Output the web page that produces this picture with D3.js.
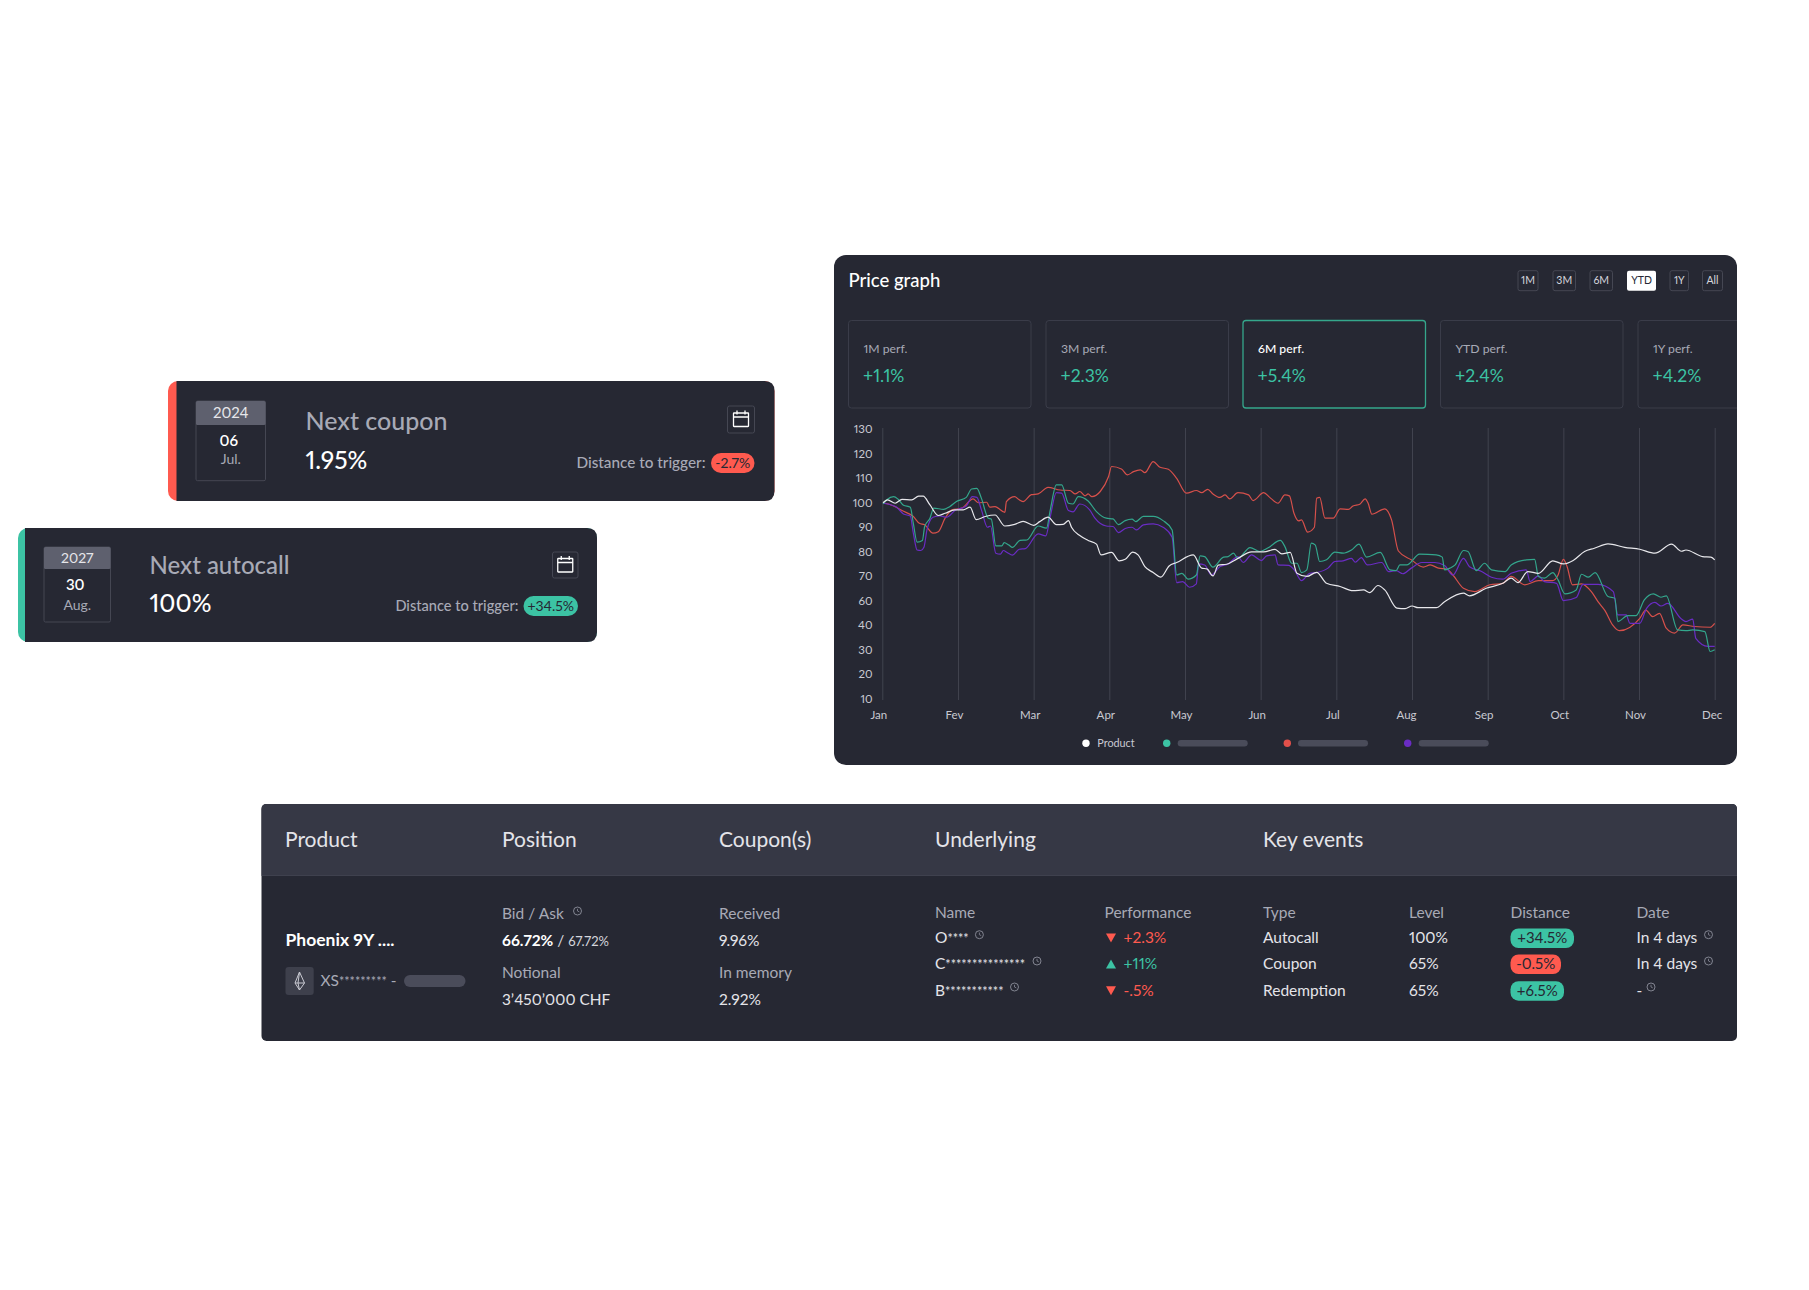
<!DOCTYPE html>
<html>
<head>
<meta charset="utf-8">
<script src="https://cdn.jsdelivr.net/npm/d3@7"></script>
<style>
  body { margin: 0; background: #fff; }
  svg { display: block; }
  text { font-family: "Lato", sans-serif; font-variant-numeric: proportional-nums; }
</style>
</head>
<body>
<div id="chart"></div>
<script>
// Data: [month index, value]
const months = ["Jan", "Fev", "Mar", "Apr", "May", "Jun", "Jul", "Aug", "Sep", "Oct", "Nov", "Dec"];
const yTicks = [130, 120, 110, 100, 90, 80, 70, 60, 40, 30, 20, 10];
const ranges = ["1M", "3M", "6M", "YTD", "1Y", "All"];
const perfNames = ["1M perf.", "3M perf.", "6M perf.", "YTD perf.", "1Y perf."];
const perfValues = ["+1.1%", "+2.3%", "+5.4%", "+2.4%", "+4.2%"];

const productValues = [[0.01,100],[0.07,101.2],[0.17,99.8],[0.26,101.4],[0.39,101.2],[0.48,102.7],[0.54,102.7],[0.63,99.1],[0.74,94.8],[0.83,95.7],[0.96,97.1],[1.07,97.1],[1.16,98.2],[1.24,93.1],[1.36,94.4],[1.49,95],[1.62,90.5],[1.75,91.2],[1.86,92.4],[2,90.8],[2.08,92.3],[2.19,94.1],[2.3,91.1],[2.39,91.2],[2.46,92.7],[2.5,90],[2.61,86.6],[2.72,84.6],[2.83,83.1],[2.89,78.7],[3.03,79.7],[3.13,76.3],[3.21,76.9],[3.31,79.8],[3.38,78.7],[3.47,73.9],[3.58,71.5],[3.68,69.6],[3.79,74.2],[3.89,75.6],[4.11,78.7],[4.22,73.3],[4.29,73],[4.37,70.1],[4.44,74.5],[4.55,74.9],[4.7,77.3],[4.88,79.9],[5.04,79.9],[5.19,81],[5.28,79.1],[5.39,79.7],[5.48,71.2],[5.61,69.9],[5.74,71.6],[5.87,67.1],[6.05,65.8],[6.22,64.1],[6.36,64.4],[6.44,63.3],[6.55,66.2],[6.64,64.4],[6.8,54],[6.91,53.5],[7,55.7],[7.08,54.3],[7.32,54.3],[7.43,59.2],[7.68,63.1],[7.76,62],[7.98,65.1],[8.2,67.1],[8.31,69.2],[8.4,67.4],[8.53,71.9],[8.67,71.2],[8.86,76.3],[9,75],[9.13,76.4],[9.28,80.1],[9.41,81.4],[9.59,83.2],[9.81,81.8],[10.01,81],[10.21,79.4],[10.43,83.1],[10.56,80.2],[10.62,80.7],[10.84,78],[10.95,77.8],[11,76.7]];

const tealValues = [[0.01,99.5],[0.06,101.2],[0.15,102.5],[0.21,101.4],[0.28,99],[0.37,98.2],[0.41,91.6],[0.46,83.9],[0.53,84.6],[0.56,90.3],[0.63,93.7],[0.68,97.8],[0.81,97.3],[0.89,98.4],[0.98,100.5],[1.11,102.2],[1.18,105.6],[1.25,105.9],[1.31,101.8],[1.4,93.7],[1.44,93.4],[1.5,82.4],[1.58,82.4],[1.61,83.7],[1.67,82.8],[1.72,81.8],[1.82,84.6],[1.91,84.8],[2.06,90.5],[2.17,89.6],[2.22,97.1],[2.3,107.3],[2.37,107.3],[2.46,99.8],[2.52,99.5],[2.59,102.5],[2.72,100.7],[2.83,96.4],[2.96,93.7],[3.05,93.4],[3.12,91.1],[3.21,92.7],[3.3,93.3],[3.35,92.3],[3.45,94.4],[3.58,94.4],[3.71,92.7],[3.83,88.9],[3.89,70.5],[3.96,71.2],[4.04,68.8],[4.15,70.5],[4.2,78.3],[4.26,78],[4.37,73.7],[4.51,77.8],[4.57,78],[4.64,79.4],[4.7,77.3],[4.86,81.7],[4.99,80.1],[5.1,81.6],[5.26,84.6],[5.32,82.1],[5.41,75.3],[5.48,75.3],[5.54,71.5],[5.61,72.6],[5.67,83.5],[5.72,82.8],[5.78,76],[5.87,76.7],[5.98,79.8],[6.09,79.4],[6.2,80.7],[6.3,83.1],[6.4,77.8],[6.58,79.7],[6.71,72.6],[6.79,72.3],[6.84,74.6],[6.93,74.6],[7.1,79],[7.32,78.7],[7.4,77.8],[7.43,72.6],[7.5,73.3],[7.57,74.6],[7.68,80.5],[7.74,80.1],[7.85,72.3],[7.96,75.3],[8.05,72.6],[8.23,71.9],[8.31,74.6],[8.51,76.7],[8.62,76.9],[8.67,69.9],[8.75,69.2],[8.86,71.5],[8.93,68.5],[9.02,62.8],[9.17,64.4],[9.24,70.8],[9.33,69.6],[9.42,71.5],[9.59,61.7],[9.68,61],[9.72,43],[9.85,47.8],[9.96,47.8],[10.07,60.3],[10.19,62.8],[10.29,61.4],[10.36,62],[10.51,38.1],[10.62,37.8],[10.71,38.1],[10.87,37.4],[10.94,29.3],[11,30]];

const redValues = [[0.01,100],[0.15,98.7],[0.26,96.8],[0.41,94.4],[0.49,91.6],[0.56,91],[0.67,87.6],[0.74,88.2],[0.83,93.7],[0.92,97.1],[1.05,97.8],[1.2,101.6],[1.27,100],[1.38,100.2],[1.42,98.2],[1.49,98.4],[1.62,96.1],[1.64,100.5],[1.75,102.5],[1.8,101.4],[1.86,100.5],[1.97,103.3],[2.06,103.6],[2.19,106.3],[2.35,105.2],[2.48,105],[2.55,103.6],[2.61,104.6],[2.68,102.8],[2.72,103.6],[2.77,102.5],[2.88,104.6],[2.99,110.7],[3.03,114.8],[3.16,113.8],[3.24,111.4],[3.32,112.7],[3.41,113.4],[3.47,112.3],[3.58,116.8],[3.67,114.5],[3.78,113.7],[3.89,110],[4.02,103.9],[4.15,105],[4.22,104.1],[4.3,105.5],[4.37,103.6],[4.46,102.2],[4.53,103.2],[4.59,101.6],[4.7,104.1],[4.84,103.2],[4.9,100.9],[5.04,104.1],[5.12,102.2],[5.23,99.8],[5.32,103.2],[5.38,102.8],[5.44,95.7],[5.5,92.6],[5.54,93],[5.62,88],[5.71,90],[5.74,101.8],[5.78,102.2],[5.85,93.7],[5.96,93.7],[6.05,97.5],[6.16,97.3],[6.22,98.7],[6.31,99.4],[6.38,101.6],[6.42,99.8],[6.47,95.3],[6.64,97.5],[6.73,93],[6.82,80.3],[6.99,76.7],[7.15,73.7],[7.24,74.6],[7.35,73.3],[7.46,72.9],[7.54,70.5],[7.68,65.1],[7.83,63.7],[8.03,66.5],[8.2,67.1],[8.31,69.9],[8.49,66.5],[8.67,68.2],[8.86,68.2],[8.93,70.5],[9,76.9],[9.05,73.9],[9.12,66.5],[9.24,66.9],[9.37,63.7],[9.46,59],[9.55,51.9],[9.65,40.3],[9.74,37.8],[10.01,45.7],[10.09,52.4],[10.18,47],[10.27,49.7],[10.36,38.8],[10.47,36.8],[10.58,40.3],[10.73,39.5],[10.94,39.2],[11,41.6]];

const purpleValues = [[0.01,99.8],[0.12,99.1],[0.19,98.2],[0.28,95.4],[0.37,94.6],[0.41,87.6],[0.46,80.7],[0.51,80.5],[0.55,81.8],[0.59,88.9],[0.67,94.1],[0.76,94.6],[0.85,94.1],[0.96,96.8],[1.11,98.7],[1.19,102.5],[1.25,102.2],[1.31,97.1],[1.39,90],[1.43,90.5],[1.5,79.4],[1.56,79],[1.6,80.5],[1.65,79.7],[1.72,78.6],[1.81,81],[1.89,81.3],[2.06,87.3],[2.16,86.5],[2.22,94.4],[2.3,104.1],[2.37,103.9],[2.46,96.8],[2.52,96.3],[2.61,99.5],[2.74,97.1],[2.81,93.7],[2.96,90.5],[3.05,90.3],[3.12,87.8],[3.21,89.5],[3.3,90],[3.36,88.9],[3.45,91],[3.58,91.4],[3.71,90],[3.83,85.9],[3.89,67.4],[3.97,67.8],[4.06,65.5],[4.15,66.9],[4.18,75],[4.26,74.6],[4.35,70.5],[4.46,73.9],[4.57,75],[4.7,78],[4.77,75.6],[4.88,78.7],[5.01,76.4],[5.08,78.3],[5.19,78.7],[5.23,74.6],[5.37,74.4],[5.45,72.3],[5.54,68.2],[5.65,71.2],[5.74,71.5],[5.89,73.3],[5.98,76],[6.09,76.3],[6.2,77.3],[6.25,75.7],[6.33,77.6],[6.41,74.6],[6.6,75.6],[6.69,71.9],[6.79,72.3],[6.88,71],[6.99,73.3],[7.13,75.6],[7.3,75.6],[7.43,74.4],[7.54,70.5],[7.68,77.3],[7.76,73.9],[7.92,71.9],[8.05,69.6],[8.2,68.8],[8.31,71.2],[8.51,72.6],[8.56,67.8],[8.67,70.1],[8.75,67.8],[8.91,67.1],[9,60],[9.17,61.3],[9.26,66.7],[9.46,66.7],[9.66,63.7],[9.72,48.4],[9.83,48.4],[9.88,41.6],[10.01,41.6],[10.1,53.8],[10.21,58.6],[10.29,55.7],[10.38,57.8],[10.56,45.1],[10.62,43],[10.71,45.1],[10.75,34.7],[10.91,31.4],[11,31.4]];

// Table contents
const tableHeads = ["Product", "Position", "Coupon(s)", "Underlying", "Key events"];
const underlyingNames = ["O", "C", "B"];
const underlyingStars = ["****", "***************", "***********"];
const underlyingPerf = ["+2.3%", "+11%", "-.5%"];
const eventTypes = ["Autocall", "Coupon", "Redemption"];
const eventLevels = ["100%", "65%", "65%"];
const eventDistances = ["+34.5%", "-0.5%", "+6.5%"];
const eventDates = ["In 4 days", "In 4 days", "-"];

// Colours
const panelBg = "#262833", headBg = "#363845", greyText = "#a8aab6",
      whiteText = "#ffffff", teal = "#3cc3a4", red = "#ff5a4f", pillCol = "#4a4c5a", bodyText = "#e4e4e9";

const svg = d3.select("#chart").append("svg").attr("width", 1809).attr("height", 1290);

function label(g, x, y, str, size, fill, opts = {}) {
    return g.append("text")
        .attr("x", x).attr("y", y)
        .attr("dy", "0.35em")
        .attr("text-anchor", opts.anchor || "start")
        .attr("font-size", size)
        .attr("font-weight", opts.weight || 400)
        .attr("fill", fill)
        .text(str);
}

function box(g, x0, y0, x1, y1, r, fill, stroke) {
    return g.append("rect")
        .attr("x", x0).attr("y", y0)
        .attr("width", x1 - x0).attr("height", y1 - y0)
        .attr("rx", r)
        .attr("fill", fill)
        .attr("stroke", stroke || "none");
}

function clock(g, x, y) {
    g.append("circle").attr("cx", x).attr("cy", y).attr("r", 4)
        .attr("fill", "none").attr("stroke", "#8b8d9a").attr("stroke-width", 0.9);
    g.append("path").attr("d", `M${x},${y - 2.2}V${y}L${x + 1.8},${y + 0.9}`)
        .attr("fill", "none").attr("stroke", "#8b8d9a").attr("stroke-width", 0.8);
}

function calendar(g, x0, y0, x1, y1) {
    box(g, x0, y0, x1, y1, 2, "none", "#454753");
    const cx = (x0 + x1) / 2, cy = (y0 + y1) / 2;
    box(g, cx - 7.5, cy - 6.5, cx + 7.5, cy + 7, 0.5, "none", "#ffffff").attr("stroke-width", 1.3);
    g.append("path")
        .attr("d", `M${cx - 7.5},${cy - 2.5}H${cx + 7.5}M${cx - 4},${cy - 9}V${cy - 5}M${cx + 4},${cy - 9}V${cy - 5}`)
        .attr("stroke", "#ffffff").attr("stroke-width", 1.3);
}

// 1. Chart panel
const panel = svg.append("g");
svg.append("clipPath").attr("id", "panel-clip")
    .append("rect").attr("x", 834).attr("y", 255).attr("width", 903).attr("height", 510).attr("rx", 12);
box(panel, 834, 255, 1737, 765, 12, panelBg);
label(panel, 848.5, 280.5, "Price graph", 18.5, whiteText, {weight: 500});

const rangeBoxes = [[1518, 1538], [1553, 1575.5], [1590, 1612.5], [1627, 1656], [1670, 1688.5], [1702.5, 1722.5]];
ranges.forEach((r, i) => {
    const [x0, x1] = rangeBoxes[i];
    const on = r === "YTD";
    box(panel, x0, 270.7, x1, 290.7, 2, on ? "#ffffff" : "none", on ? "none" : "#454753");
    label(panel, (x0 + x1) / 2, 280.7, r, 10.5, on ? "#262833" : "#d5d6dd", {anchor: "middle"});
});

const perfLeft = [848.5, 1046, 1243, 1440.5, 1638];
const perfGroup = panel.append("g").attr("clip-path", "url(#panel-clip)");
perfNames.forEach((name, i) => {
    const x0 = perfLeft[i], on = i === 2;
    box(perfGroup, x0, 320.5, x0 + 182.5, 408, 3, "none", on ? "#35a78c" : "#3a3c49").attr("stroke-width", on ? 1.3 : 1);
    label(perfGroup, x0 + 15, 349, name, 12.2, on ? whiteText : greyText, {weight: on ? 500 : 400});
    label(perfGroup, x0 + 14.5, 376, perfValues[i], 17.5, teal);
});

// 2. Scales (the value axis skips 50, so the scale is piecewise)
const x = d3.scaleLinear().domain([0, 11]).range([882.3, 1714.7]);
const y = d3.scaleLinear().domain([10, 40, 60, 130]).range([698.7, 625.3, 600.7, 429.3]);

// Gridlines
panel.append("g")
    .attr("transform", "translate(0,700)")
    .call(d3.axisBottom(x).tickValues(d3.range(12)).tickSize(-272).tickFormat(""))
    .call(g => g.select(".domain").remove())
    .call(g => g.selectAll("line").attr("stroke", "#41434f").attr("stroke-width", 1));

// X Axis
panel.append("g")
    .attr("transform", "translate(0,700)")
    .call(d3.axisBottom(x).tickValues(d3.range(12)).tickSize(0).tickPadding(11).tickFormat(i => months[i]))
    .call(g => g.select(".domain").remove())
    .call(g => g.selectAll("text")
        .attr("dx", i => i === 7 ? -6 : i === 11 ? -3 : -4)
        .attr("font-family", "Lato, sans-serif")
        .attr("font-size", 11.5)
        .attr("fill", "#c9cad2"));

// Y Axis
panel.append("g")
    .attr("transform", "translate(872.5,0)")
    .call(d3.axisLeft(y).tickValues(yTicks).tickSize(0).tickPadding(0))
    .call(g => g.select(".domain").remove())
    .call(g => g.selectAll("text")
        .attr("font-family", "Lato, sans-serif")
        .attr("font-size", 11.5)
        .attr("fill", "#c9cad2"));

// 3. Lines
const line = d3.line().x(d => x(d[0])).y(d => y(d[1])).curve(d3.curveMonotoneX);
const lineSeries = [
    {values: redValues, color: "#d6504b"},
    {values: purpleValues, color: "#6a2cc4"},
    {values: tealValues, color: "#33a68c"},
    {values: productValues, color: "#e8e8ec"}
];
panel.selectAll(".series")
    .data(lineSeries)
    .enter().append("path")
        .attr("class", "series")
        .attr("d", d => line(d.values))
        .attr("fill", "none")
        .attr("stroke", d => d.color)
        .attr("stroke-width", 1.2)
        .attr("stroke-linejoin", "round");

// Legend
const legendItems = [
    {color: "#ffffff", dot: 1086},
    {color: teal, dot: 1166.7, pill: 1177.7},
    {color: "#e2504a", dot: 1287.3, pill: 1298},
    {color: "#6a2cc4", dot: 1407.7, pill: 1418.7}
];
legendItems.forEach(d => {
    panel.append("circle").attr("cx", d.dot).attr("cy", 743.3).attr("r", 3.7).attr("fill", d.color);
    if (d.pill) box(panel, d.pill, 740, d.pill + 70, 746.6, 3.3, pillCol);
});
label(panel, 1097.3, 743.3, "Product", 10.8, "#c9cad2");

// 4. Event cards
function card(c) {
    const g = svg.append("g");
    box(g, c.x0, c.y0, c.x1, c.y1, 10, c.accent);
    g.append("path")
        .attr("d", `M${c.x0 + c.barW},${c.y0}H${c.x1 - 10}Q${c.x1},${c.y0} ${c.x1},${c.y0 + 10}V${c.y1 - 10}Q${c.x1},${c.y1} ${c.x1 - 10},${c.y1}H${c.x0 + c.barW}Z`)
        .attr("fill", panelBg);
    box(g, c.dateX0, c.dateY0, c.dateX1, c.dateY1, 1.5, "none", "#454753");
    box(g, c.dateX0, c.dateY0, c.dateX1, c.dateHead, 1.5, "#5e606e");
    const mid = (c.dateX0 + c.dateX1) / 2;
    label(g, mid, (c.dateY0 + c.dateHead) / 2, c.year, c.big ? 15 : 14, "#e6e6ea", {anchor: "middle"});
    label(g, mid - 2, c.dayY, c.day, 15, whiteText, {anchor: "middle", weight: 600});
    label(g, mid, c.monY, c.month, 14, greyText, {anchor: "middle"});
    label(g, c.textX, c.titleY, c.title, c.big ? 25 : 24, greyText, {weight: 500});
    label(g, c.textX, c.valueY, c.value, 24.5, whiteText, {weight: 500});
    calendar(g, c.calX0, c.calY0, c.calX1, c.calY1);
    label(g, c.distX, c.distY, "Distance to trigger:", c.distSize, greyText, {anchor: "end", weight: 500});
    box(g, c.badgeX0, c.distY - 10, c.calX1, c.distY + 10, 10, c.accent);
    label(g, (c.badgeX0 + c.calX1) / 2, c.distY, c.badge, 14, "#262833", {anchor: "middle"});
}

card({x0: 168, y0: 381, x1: 774.5, y1: 501, barW: 8.5, accent: red, big: true,
      dateX0: 196, dateX1: 265.5, dateY0: 401, dateHead: 425, dateY1: 480.7, year: "2024", day: "06", month: "Jul.", dayY: 441, monY: 459,
      textX: 305.5, title: "Next coupon", titleY: 421, value: "1.95%", valueY: 460.7,
      calX0: 727.5, calX1: 754.5, calY0: 406, calY1: 433, distX: 705.5, distSize: 15.3, distY: 463, badgeX0: 711, badge: "-2.7%"});
card({x0: 18, y0: 528, x1: 597, y1: 642, barW: 7, accent: teal,
      dateX0: 44, dateX1: 110.5, dateY0: 547, dateHead: 569, dateY1: 622, year: "2027", day: "30", month: "Aug.", dayY: 585, monY: 604.7,
      textX: 149.5, title: "Next autocall", titleY: 565.7, value: "100%", valueY: 603,
      calX0: 552.5, calX1: 578, calY0: 552, calY1: 578, distX: 518.5, distSize: 14.6, distY: 606, badgeX0: 523.5, badge: "+34.5%"});

// 5. Table
const table = svg.append("g");
box(table, 261.5, 804, 1737, 1041, 5, panelBg);
table.append("path")
    .attr("d", "M261.5,875V809Q261.5,804 266.5,804H1732Q1737,804 1737,809V875Z")
    .attr("fill", headBg);
table.append("line").attr("x1", 261.5).attr("x2", 1737).attr("y1", 875.5).attr("y2", 875.5).attr("stroke", "#3f414e");

const headX = [285, 502, 719, 935, 1263];
tableHeads.forEach((h, i) => label(table, headX[i], 839.5, h, 21, bodyText));

// Product
label(table, 285.5, 940, "Phoenix 9Y ....", 17.5, whiteText, {weight: 700});
box(table, 285.5, 967, 313.7, 995, 3, "#3e404c");
table.append("path")
    .attr("d", "M299.5,972L304.5,983L299.5,990L295,983ZM295,983L304.5,983M299.5,972L298,983L299.5,990")
    .attr("fill", "none").attr("stroke", "#c9cad2").attr("stroke-width", 1);
const isin = label(table, 320.5, 981, "XS", 15.5, greyText);
isin.append("tspan").attr("font-size", 12.5).text("*********");
isin.append("tspan").text(" -");
box(table, 404, 975, 465.5, 987, 6, pillCol);

// Position and coupons
label(table, 502, 914, "Bid / Ask", 15.5, greyText);
clock(table, 577.5, 911);
const bid = label(table, 502, 940.7, "66.72%", 15.5, whiteText, {weight: 700});
bid.append("tspan").attr("font-weight", 400).attr("fill", "#d5d6dd").text(" / ");
bid.append("tspan").attr("font-weight", 400).attr("font-size", 13).attr("fill", "#d5d6dd").text("67.72%");
label(table, 502, 973, "Notional", 15.5, greyText);
label(table, 502, 999.5, "3\u2019450\u2019000 CHF", 15.4, bodyText);
label(table, 719, 914, "Received", 15.5, greyText);
label(table, 719, 940.7, "9.96%", 15.5, bodyText);
label(table, 719, 973, "In memory", 15.5, greyText);
label(table, 719, 999.5, "2.92%", 15.5, bodyText);

// Underlying and key events
const rowY = [938, 964, 990.7];
const clockX = [979.4, 1037, 1014.5];
const clockY = [934.7, 961, 987];
const dateClockX = [1708.5, 1708.5, 1651];
const badgeRight = [1574, 1561, 1564];
[["Name", 935], ["Performance", 1104.5], ["Type", 1263], ["Level", 1409], ["Distance", 1510.5], ["Date", 1636.5]]
    .forEach(d => label(table, d[1], 912.7, d[0], 15.5, greyText));

rowY.forEach((ry, i) => {
    const up = underlyingPerf[i] === "+11%";
    const col = up ? teal : red;
    const name = label(table, 935, ry, underlyingNames[i], 15.5, bodyText);
    name.append("tspan").attr("font-size", 12.5).text(underlyingStars[i]);
    clock(table, clockX[i], clockY[i]);
    table.append("path")
        .attr("d", up
            ? `M1106,${ry + 4.5}H1116L1111,${ry - 4.5}Z`
            : `M1106,${ry - 4.5}H1116L1111,${ry + 4.5}Z`)
        .attr("fill", col);
    label(table, 1123.5, ry, underlyingPerf[i], 15.5, col);
    label(table, 1263, ry, eventTypes[i], 15.5, bodyText);
    label(table, 1409, ry, eventLevels[i], 15.5, bodyText);
    const isRed = eventDistances[i].startsWith("-");
    box(table, 1510.5, ry - 9.5, badgeRight[i], ry + 10, 8, isRed ? red : teal);
    label(table, (1510.5 + badgeRight[i]) / 2, ry, eventDistances[i], 15, "#262833", {anchor: "middle"});
    label(table, 1636.5, ry, eventDates[i], 15.5, bodyText);
    clock(table, dateClockX[i], clockY[i]);
});
</script>
</body>
</html>
